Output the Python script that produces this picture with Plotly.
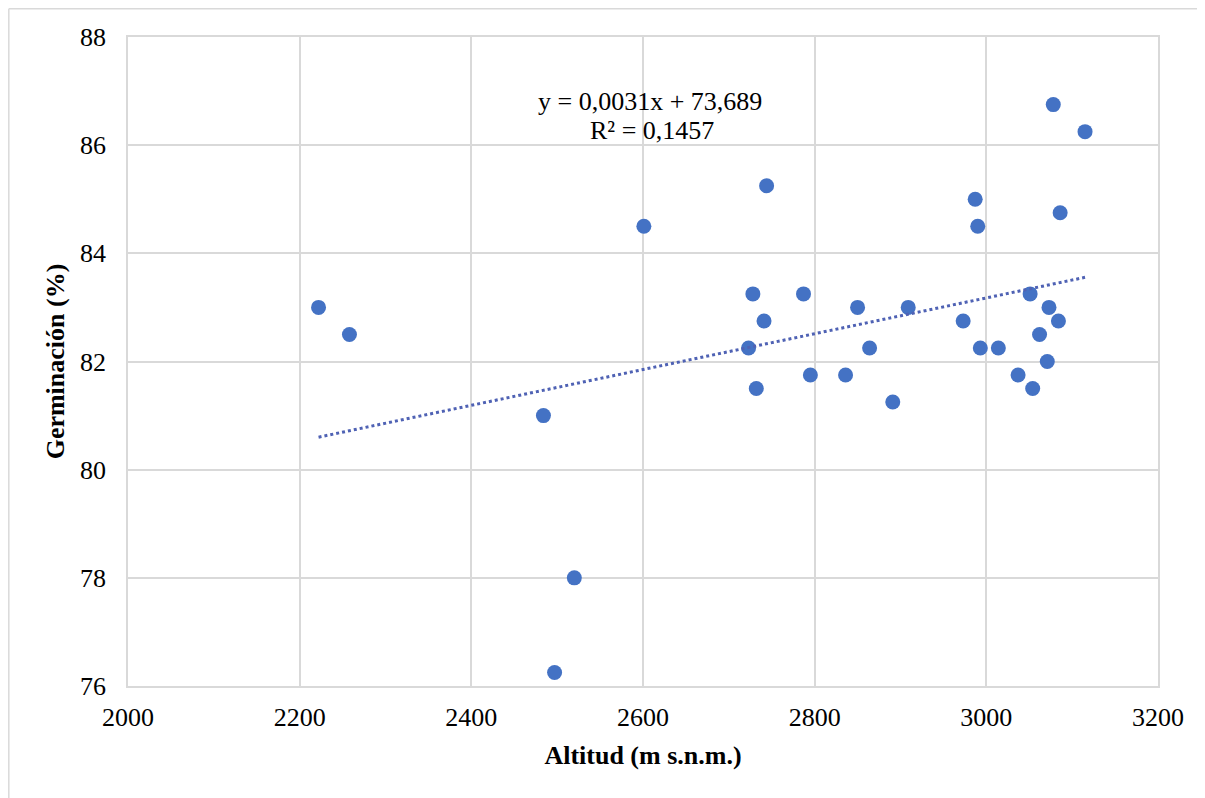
import numpy as np
import plotly.graph_objects as go

# Data
altitud = [2222, 2258, 2484, 2520, 2497, 2601, 2744,
           2728, 2787, 2850, 2909, 2741, 2723, 2864, 2795, 2836, 2732, 2891,
           3078, 3115, 2987, 2990, 3086, 3051, 3073, 3084, 2973, 3062, 2993,
           3014, 3071, 3037, 3054]
germinacion = [83.0, 82.5, 81.0, 78.0, 76.25, 84.5, 85.25,
               83.25, 83.25, 83.0, 83.0, 82.75, 82.25, 82.25, 81.75, 81.75, 81.5, 81.25,
               86.75, 86.25, 85.0, 84.5, 84.75, 83.25, 83.0, 82.75, 82.75, 82.5, 82.25,
               82.25, 82.0, 81.75, 81.5]

x_ticks = [2000, 2200, 2400, 2600, 2800, 3000, 3200]
y_ticks = [76, 78, 80, 82, 84, 86, 88]
eq_line1 = "y = 0,0031x + 73,689"
eq_line2 = "R² = 0,1457"

FONT = "Liberation Serif"
BLUE = "#4472C4"
GRID = "#D9D9D9"

xa = np.array(altitud, dtype=float)
ya = np.array(germinacion, dtype=float)
slope, intercept = np.polyfit(xa, ya, 1)
xt = np.array([xa.min(), xa.max()])
yt = slope * xt + intercept

fig = go.Figure()
fig.add_trace(go.Scatter(
    x=altitud, y=germinacion, mode="markers",
    marker=dict(color=BLUE, size=15, line=dict(width=0)),
    showlegend=False, hoverinfo="x+y"))
fig.add_trace(go.Scatter(
    x=xt, y=yt, mode="lines",
    line=dict(color="#4F62B4", width=3, dash="dot"),
    showlegend=False, hoverinfo="skip"))

fig.add_annotation(x=2608, y=86.80, xref="x", yref="y", text=eq_line1,
                   showarrow=False, font=dict(family=FONT, size=26, color="#000000"),
                   xanchor="center", yanchor="middle")
fig.add_annotation(x=2610, y=86.27, xref="x", yref="y", text=eq_line2,
                   showarrow=False, font=dict(family=FONT, size=26, color="#000000"),
                   xanchor="center", yanchor="middle")

# page has an 8px body margin, so the figure is shrunk and shifted by 8px
W, H = 1197, 790
ml, mt = 120, 29
plot_right, plot_bottom = 1150.5, 677.7
mr, mb = W - plot_right, H - plot_bottom
pw, ph = W - ml - mr, H - mt - mb
def px_x(p):
    return (p - ml) / pw
def px_y(p):
    return (H - mb - p) / ph
# outer chart border (left and top)
fig.add_shape(type="line", xref="paper", yref="paper",
              x0=px_x(0.75), y0=px_y(0.75), x1=px_x(W), y1=px_y(0.75),
              line=dict(color=GRID, width=1.5))
fig.add_shape(type="line", xref="paper", yref="paper",
              x0=px_x(0.75), y0=px_y(0.75), x1=px_x(0.75), y1=px_y(H),
              line=dict(color=GRID, width=1.5))

fig.update_layout(
    width=W, height=H,
    margin=dict(l=ml, r=mr, t=mt, b=mb, autoexpand=False),
    paper_bgcolor="white", plot_bgcolor="white",
    font=dict(family=FONT, size=26, color="#000000"),
    xaxis=dict(range=[2000, 3200], tickvals=x_ticks, ticktext=[str(v) for v in x_ticks],
               showgrid=True, gridcolor=GRID, gridwidth=1.5,
               showline=True, linecolor=GRID, linewidth=1.5, mirror=True,
               zeroline=False, ticks="outside", ticklen=7, tickcolor="rgba(0,0,0,0)",
               tickfont=dict(family=FONT, size=26),
               title=dict(text="<b>Altitud (m s.n.m.)</b>", font=dict(family=FONT, size=26),
                          standoff=15)),
    yaxis=dict(range=[76, 88], tickvals=y_ticks, ticktext=[str(v) for v in y_ticks],
               showgrid=True, gridcolor=GRID, gridwidth=1.5,
               showline=True, linecolor=GRID, linewidth=1.5, mirror=True,
               zeroline=False, ticks="outside", ticklen=15, tickcolor="rgba(0,0,0,0)",
               tickfont=dict(family=FONT, size=26),
               title=dict(text="<b>Germinación (%)</b>", font=dict(family=FONT, size=26),
                          standoff=8)),
)

fig.write_html("out.html")
